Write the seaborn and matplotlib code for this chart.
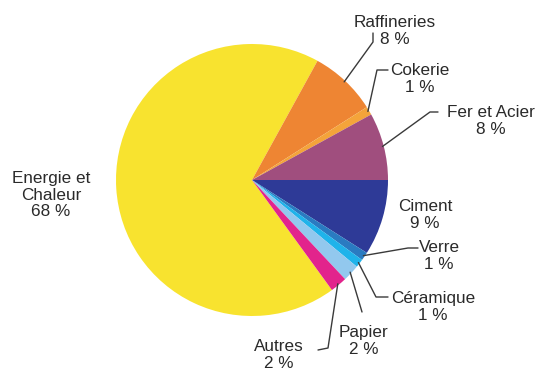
import numpy as np
import matplotlib
matplotlib.use('Agg')
from matplotlib import pyplot as plt
import seaborn as sns

sns.set_theme(style='white')
plt.rcParams['font.family'] = ['Liberation Sans', 'DejaVu Sans']

# data, clockwise from the big slice
labels = ['Energie et\nChaleur', 'Raffineries', 'Cokerie', 'Fer et Acier', 'Ciment',
          'Verre', 'Céramique', 'Papier', 'Autres']
values = [68, 8, 1, 8, 9, 1, 1, 2, 2]
colors = ['#F8E32F', '#EE8533', '#F4A43A', '#A04E7E', '#2E3A97',
          '#2A7BC1', '#1FB3EA', '#92C8EE', '#E2248C']

# layout, in pixels of the 539x370 picture
W, H = 539, 370
CX, CY, R = 252, 180, 136


def px(x, y):
    return (x - CX) / R, (CY - y) / R


fig = plt.figure(figsize=(W / 100, H / 100), dpi=100)
ax = fig.add_axes([0, 0, 1, 1])

# Ciment starts at 3 o'clock
start = 360 * sum(values[:4]) / sum(values)
wedges, _ = ax.pie(values, colors=colors, startangle=start, counterclock=False,
                   radius=1, wedgeprops={'linewidth': 0})

ax.set_xlim(-CX / R, (W - CX) / R)
ax.set_ylim(-(H - CY) / R, CY / R)
ax.set_aspect('equal')
ax.axis('off')

# label text position (centre) and leader path after the wedge edge
placement = {
    'Energie et\nChaleur': ((51, 195), []),
    'Raffineries': ((395, 31), [(373, 42), (373, 33)]),
    'Cokerie': ((420, 79), [(377, 70), (388, 70)]),
    'Fer et Acier': ((491, 121), [(430, 112), (438, 112)]),
    'Ciment': ((425, 215), []),
    'Verre': ((439, 256), [(408, 248), (418, 248)]),
    'Céramique': ((433, 307), [(376, 297), (388, 297)]),
    'Papier': ((364, 341), [(362, 312)]),
    'Autres': ((279, 355), [(328, 348), (318, 350)]),
}

for lab, val, w in zip(labels, values, wedges):
    (tx, ty), path = placement[lab]
    ax.text(*px(tx, ty), f'{lab}\n{val} %', ha='center', va='center',
            fontsize=12.3, color='#2a2a2a', linespacing=1.12)
    if path:
        mid = np.deg2rad((w.theta1 + w.theta2) / 2)
        pts = [(np.cos(mid) * 0.99, np.sin(mid) * 0.99)] + [px(x, y) for x, y in path]
        xs, ys = zip(*pts)
        ax.plot(xs, ys, color='#3a3a3a', linewidth=1.0)

fig.savefig('out.png', dpi=100)
